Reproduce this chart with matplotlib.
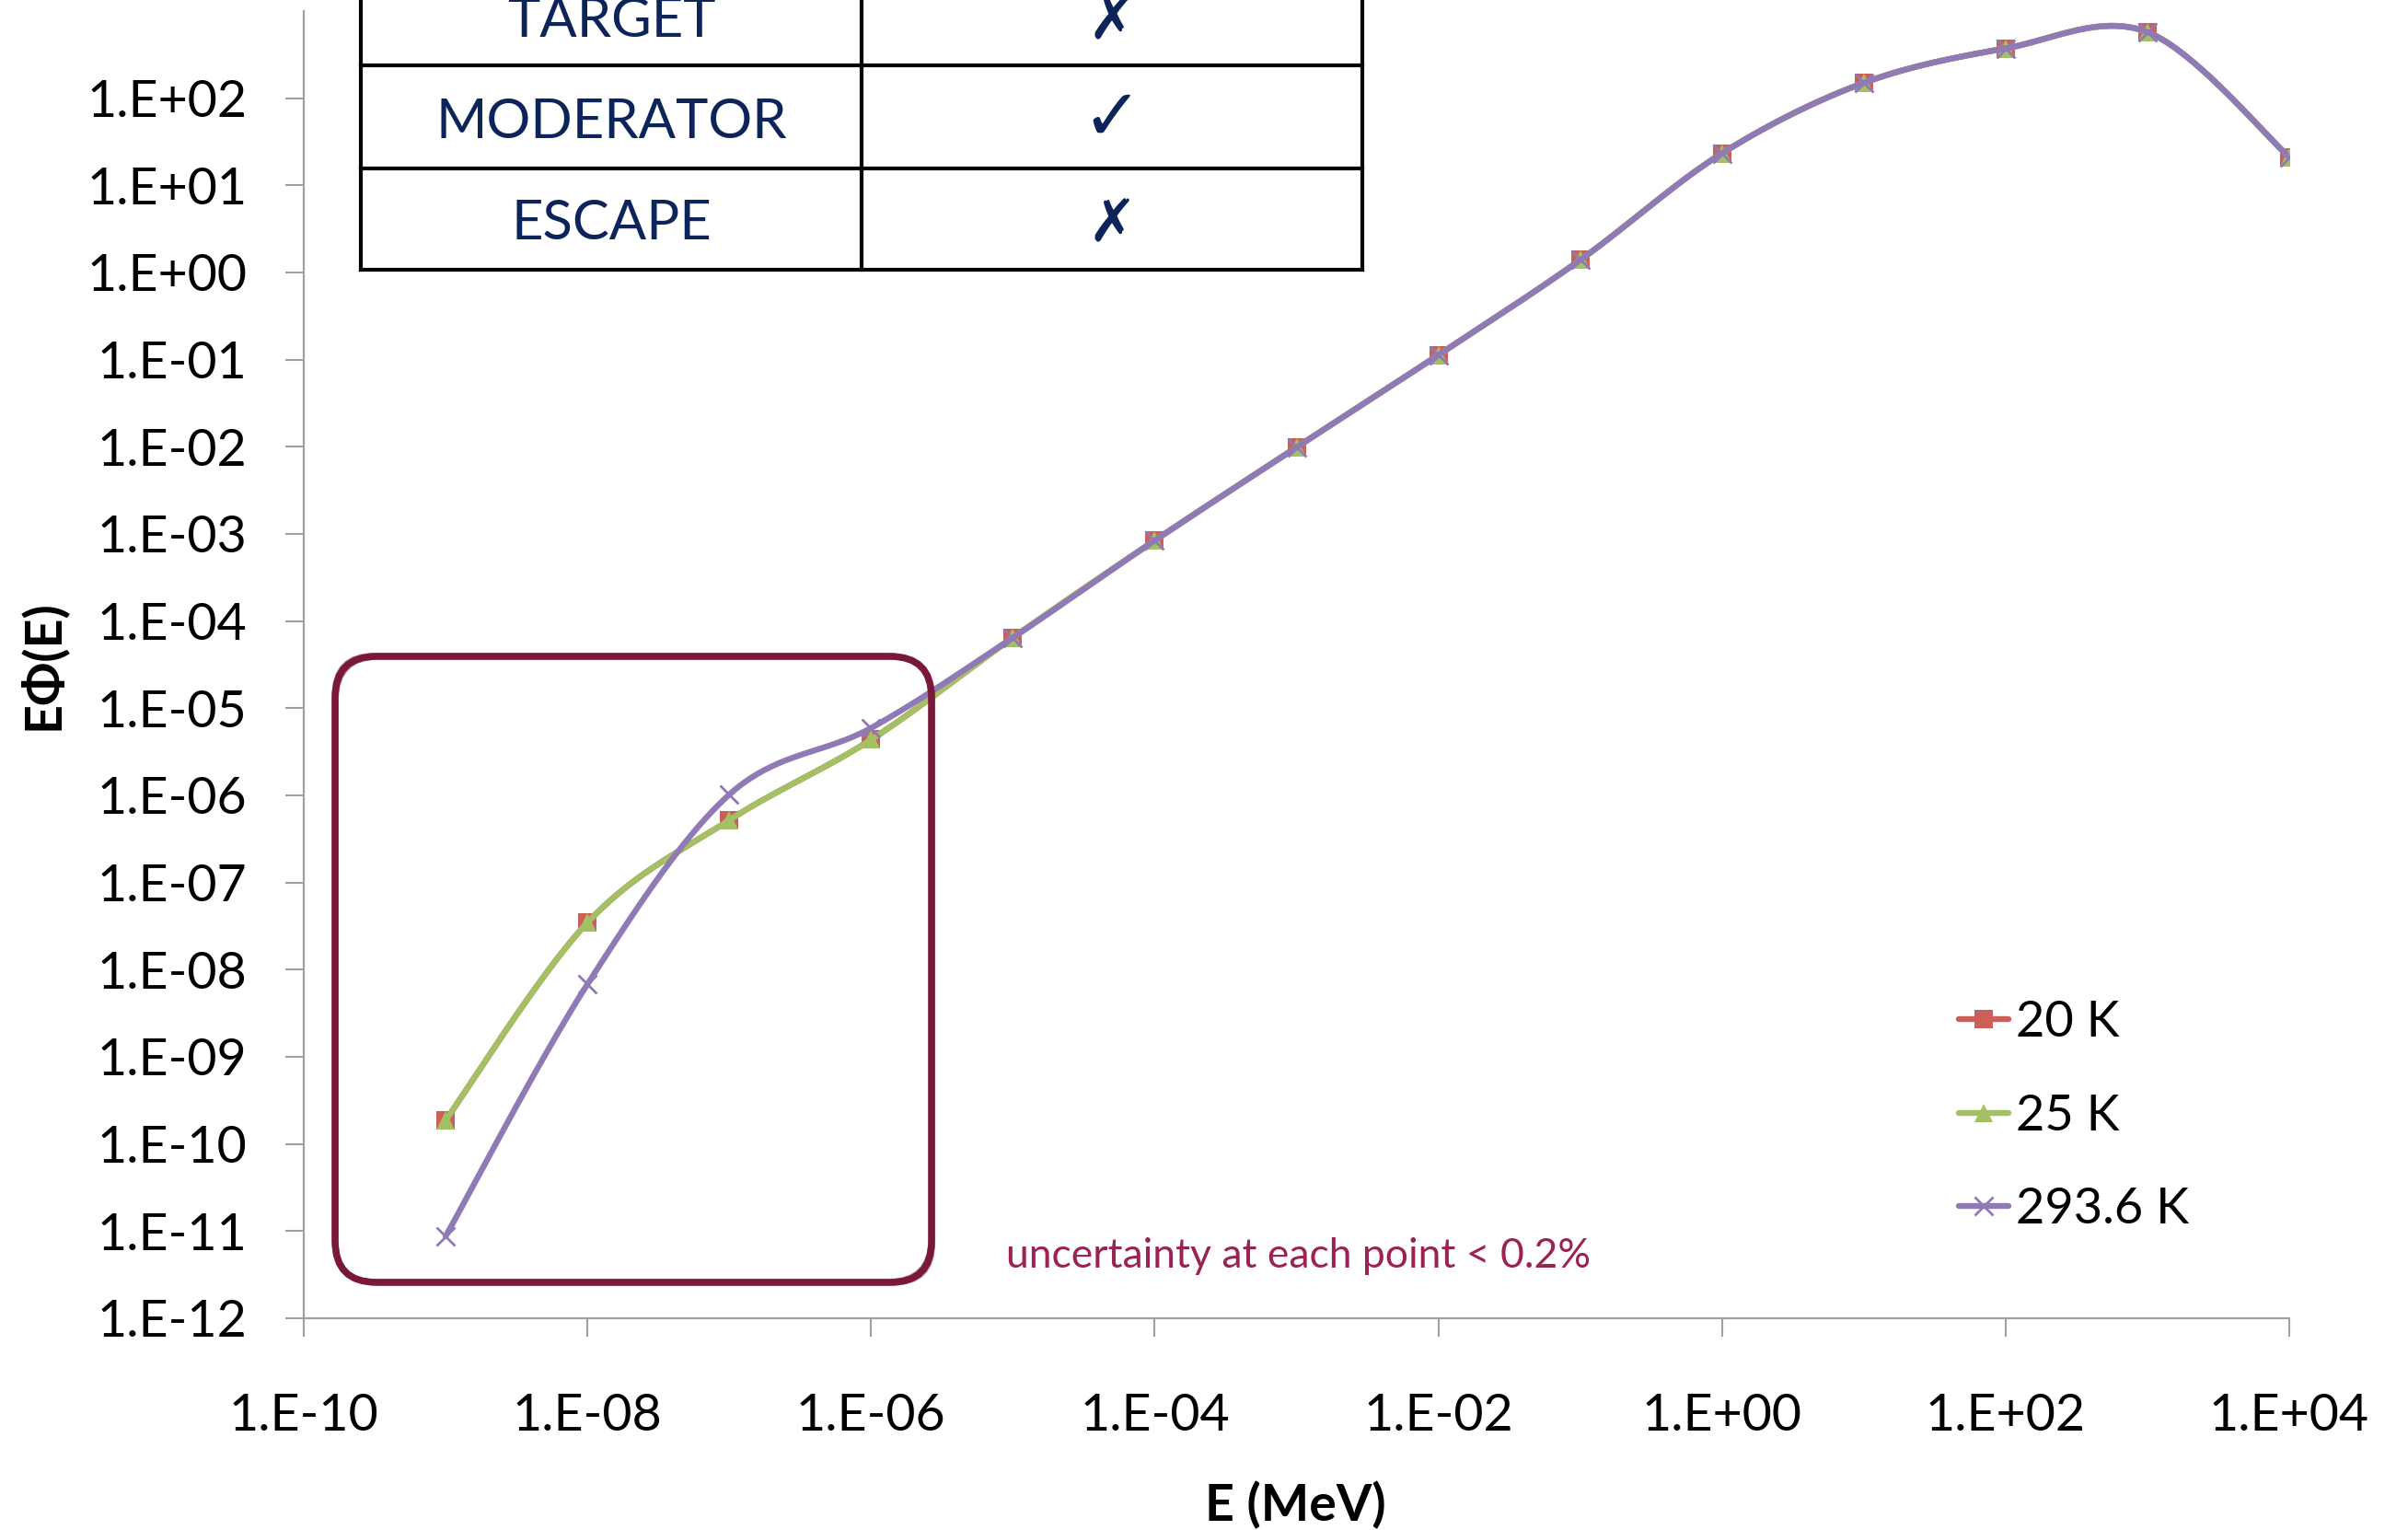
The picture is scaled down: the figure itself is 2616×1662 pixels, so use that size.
import numpy as np
import matplotlib.pyplot as plt
from matplotlib.patches import FancyBboxPatch
from matplotlib.lines import Line2D

plt.rcParams['font.family'] = ['Lato', 'DejaVu Sans']

# tally energies (MeV)
energy = [1e-9, 1e-8, 1e-7, 1e-6, 1e-5, 1e-4, 1e-3, 1e-2, 1e-1, 1e0, 1e1, 1e2, 1e3, 1e4]

# E*Phi(E) per moderator temperature
flux_20K = [1.87e-10, 3.47e-8, 5.2e-7, 4.36e-6, 6.46e-5, 8.4e-4, 9.87e-3, 0.113, 1.39, 23.3, 150, 373, 573, 21.1]
flux_25K = [1.87e-10, 3.47e-8, 5.2e-7, 4.36e-6, 6.46e-5, 8.4e-4, 9.87e-3, 0.113, 1.39, 23.3, 150, 373, 573, 21.1]
flux_293K = [8.7e-12, 6.8e-9, 1.02e-6, 5.93e-6, 6.46e-5, 8.4e-4, 9.87e-3, 0.113, 1.39, 23.3, 150, 373, 573, 21.1]

series_labels = ['20 K', '25 K', '293.6 K']

xtick_vals = [1e-10, 1e-8, 1e-6, 1e-4, 1e-2, 1e0, 1e2, 1e4]
xtick_labels = ['1.E-10', '1.E-08', '1.E-06', '1.E-04', '1.E-02', '1.E+00', '1.E+02', '1.E+04']
ytick_vals = [1e-12, 1e-11, 1e-10, 1e-9, 1e-8, 1e-7, 1e-6, 1e-5, 1e-4, 1e-3, 1e-2, 1e-1, 1e0, 1e1, 1e2]
ytick_labels = ['1.E-12', '1.E-11', '1.E-10', '1.E-09', '1.E-08', '1.E-07', '1.E-06', '1.E-05',
                '1.E-04', '1.E-03', '1.E-02', '1.E-01', '1.E+00', '1.E+01', '1.E+02']

table_rows = ['TARGET', 'MODERATOR', 'ESCAPE']
table_marks = ['\u2717', '\u2713', '\u2717']

W, H = 2616, 1662


def smooth(xs, ys, steps=40):
    # spreadsheet-style smoothed line: cubic bezier with catmull-rom control points,
    # done in log-log space so it bends the same way on screen
    px = np.log10(xs)
    py = np.log10(ys)
    n = len(px)
    outx, outy = [], []
    for i in range(n - 1):
        i0 = max(i - 1, 0)
        i3 = min(i + 2, n - 1)
        p0 = np.array([px[i], py[i]])
        p3 = np.array([px[i + 1], py[i + 1]])
        c1 = p0 + (p3 - np.array([px[i0], py[i0]])) / 6
        c2 = p3 - (np.array([px[i3], py[i3]]) - p0) / 6
        last = i == n - 2
        t = np.linspace(0, 1, steps + 1 if last else steps, endpoint=last)[:, None]
        pts = (1 - t) ** 3 * p0 + 3 * (1 - t) ** 2 * t * c1 + 3 * (1 - t) * t ** 2 * c2 + t ** 3 * p3
        outx.extend(pts[:, 0])
        outy.extend(pts[:, 1])
    marks = [i * steps for i in range(n)]
    return 10 ** np.array(outx), 10 ** np.array(outy), marks


def fx(px):
    return px / W


def fy(py):
    return 1 - py / H


fig = plt.figure(figsize=(W / 100, H / 100), dpi=100)
ax = fig.add_axes([fx(330), fy(1432), fx(2487) - fx(330), fy(12) - fy(1432)])

styles = [
    dict(color='#CD5F59', marker='s', ms=15, mec='#CD5F59', mew=0),
    dict(color='#A3C064', marker='^', ms=15, mec='#A3C064', mew=0),
    dict(color='#8F7AB6', marker='x', ms=15, mec='#8F7AB6', mew=2.0),
]
for vals, lab, st in zip([flux_20K, flux_25K, flux_293K], series_labels, styles):
    sx, sy, marks = smooth(energy, vals)
    ax.plot(sx, sy, lw=4.6, markevery=marks, label=lab, solid_capstyle='round', **st)

ax.set_xscale('log')
ax.set_yscale('log')
ax.set_xlim(1e-10, 1e4)
ax.set_ylim(1e-12, 1e3)
ax.set_xticks(xtick_vals)
ax.set_xticklabels(xtick_labels)
ax.set_yticks(ytick_vals)
ax.set_yticklabels(ytick_labels)
ax.minorticks_off()

for side in ['top', 'right']:
    ax.spines[side].set_visible(False)
for side in ['left', 'bottom']:
    ax.spines[side].set_color('#A0A0A0')
    ax.spines[side].set_linewidth(1.6)
ax.tick_params(axis='both', direction='out', length=14.5, width=1.5, color='#A0A0A0', labelsize=40)
ax.tick_params(axis='x', pad=44)
ax.tick_params(axis='y', pad=30)

fig.text(fx(1407), fy(1652), 'E (MeV)', ha='center', va='baseline', fontsize=40, fontweight='bold')
fig.text(fx(45), fy(722), 'E\u03a6(E)', ha='center', va='center', rotation=90, fontsize=40,
         fontweight='bold')

leg = ax.legend(loc='upper left', bbox_to_anchor=(fx(2128), fy(1086)), bbox_transform=fig.transFigure,
                frameon=False, fontsize=39, handlelength=1.0, handletextpad=0.15, labelspacing=0.97,
                borderpad=0, borderaxespad=0, numpoints=1)

fig.text(fx(1093), fy(1377), 'uncertainty at each point < 0.2%', color='#9B2255', fontsize=32,
         ha='left', va='baseline')

# highlight box around the thermal region, drawn in inches so the corners stay round
box_style = 'round,pad=0,rounding_size=0.45'
x0, y0, bw, bh = 3.64, (H - 1393) / 100, 6.48, 6.8
for dx, dy, lw, a in [(0, 0, 5.4, 1.0), (0.03, -0.025, 1.5, 0.5), (-0.025, 0.03, 1.3, 0.45),
                      (0.015, 0.02, 1.0, 0.35)]:
    fig.add_artist(FancyBboxPatch((x0 + dx, y0 + dy), bw, bh, boxstyle=box_style,
                                  transform=fig.dpi_scale_trans, fill=False,
                                  ec='#7A1838', lw=lw, alpha=a))

# component table in the upper left corner
tab_l, tab_m, tab_r = 392, 936, 1480
for yl in [71, 183, 293]:
    fig.add_artist(Line2D([fx(tab_l), fx(tab_r)], [fy(yl), fy(yl)], color='black', lw=3.0,
                          transform=fig.transFigure))
for xl in [tab_l, tab_m, tab_r]:
    fig.add_artist(Line2D([fx(xl), fx(xl)], [fy(-5), fy(293)], color='black', lw=3.0,
                          transform=fig.transFigure))
for name, mark, base in zip(table_rows, table_marks, [40, 150, 260]):
    fig.text(fx((tab_l + tab_m) / 2), fy(base), name, ha='center', va='baseline', fontsize=43,
             color='#0C2459')
    fig.text(fx((tab_m + tab_r) / 2), fy(base + 2), mark, ha='center', va='baseline',
             fontsize=56 if mark == '\u2713' else 46,
             color='#0C2459', family=['DejaVu Sans'], fontweight='bold')

fig.savefig('out.png', dpi=100)
